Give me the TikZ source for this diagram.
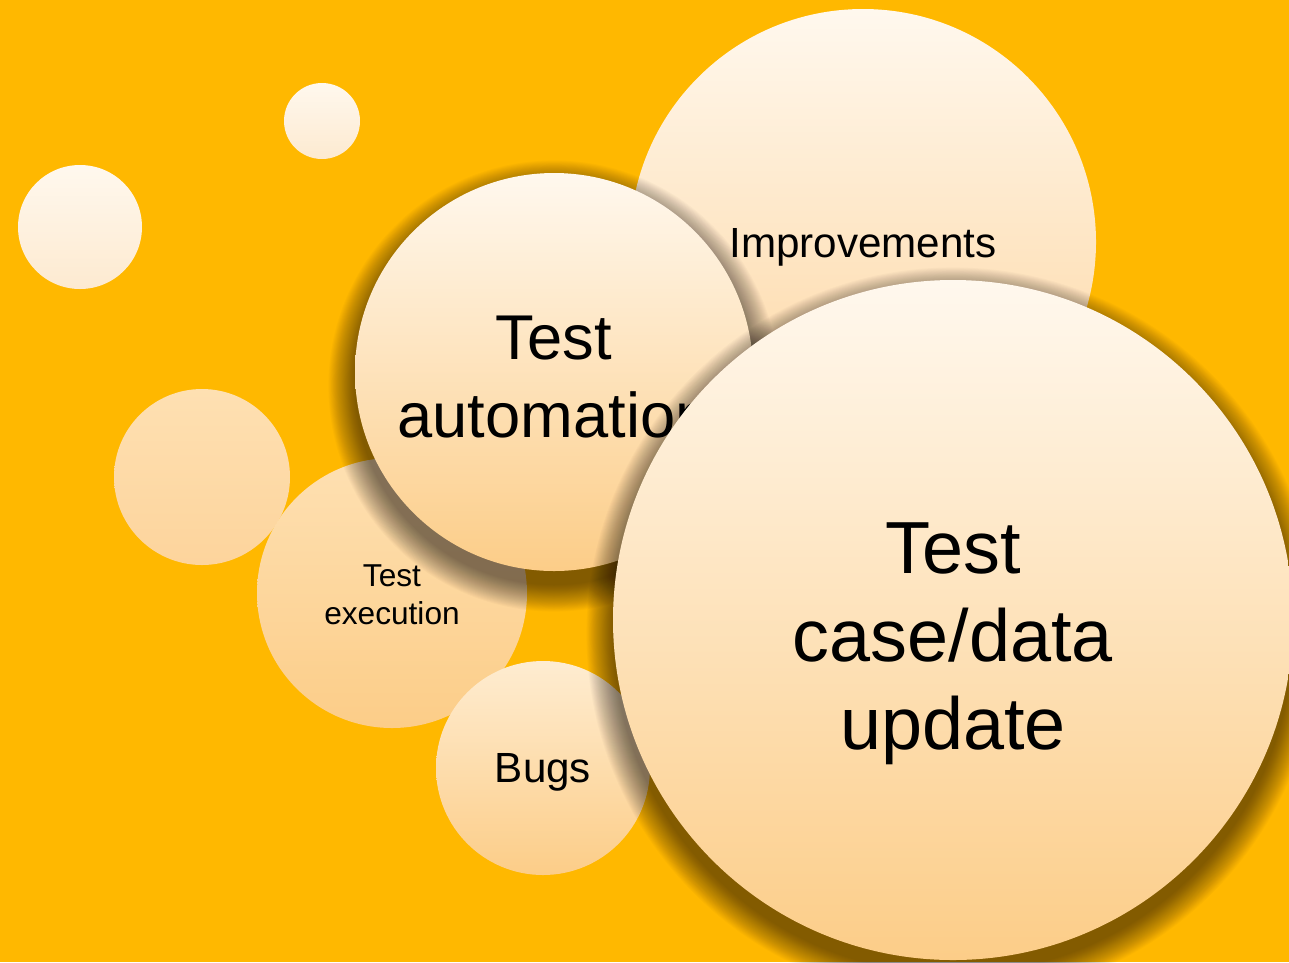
\documentclass[tikz,border=0pt]{standalone}
\usepackage{fontspec}
\setmainfont{Liberation Sans}
\definecolor{backdrop}{RGB}{255,184,0}
\definecolor{creamtop}{RGB}{255,248,238}
\definecolor{creambottom}{RGB}{252,205,136}
\definecolor{palebottom}{RGB}{253,234,208}
\definecolor{peachtop}{RGB}{254,224,178}
\definecolor{peachbottom}{RGB}{253,212,156}

% soft drop shadow under a bubble: centre, radius (cm)
\newcommand{\dropshade}[2]{%
  \foreach \k in {1,...,30}{%
    \fill[black, opacity=0.02, yshift=-0.28cm] (#1) circle ({#2+0.55*(1-\k/30)});
  }%
}

\begin{document}
\begin{tikzpicture}[
    bubble/.style={
        circle,
        inner sep=0pt,
        top color=creamtop,
        bottom color=creambottom
    },
    dot/.style={
        bubble,
        bottom color=palebottom
    },
    peach/.style={
        bubble,
        top color=peachtop,
        bottom color=peachbottom
    },
    caption/.style={align=center, inner sep=0pt}
]

% orange page
\fill[backdrop] (0,0) rectangle (25.78,-19.24);
\useasboundingbox (0,0) rectangle (25.78,-19.24);

% loose bubbles
\node[dot, minimum size=1.52cm] (dotA) at (6.44,-2.42) {};
\node[dot, minimum size=2.48cm] (dotB) at (1.60,-4.54) {};
\node[peach, minimum size=3.52cm] (dotC) at (4.04,-9.54) {};

% labelled bubbles, back to front
\node[peach, bottom color=creambottom, minimum size=5.40cm] (execution) at (7.84,-11.86) {};
\node[caption, font=\fontsize{18}{21.6}\selectfont] (executionText)
    at ([yshift=-0.04cm]execution.center) {Test\\execution};

\node[bubble, top color=peachtop!60!white, minimum size=4.28cm] (bugs) at (10.86,-15.36) {};
\node[caption, font=\fontsize{24}{28}\selectfont] (bugsText)
    at ([yshift=-0.08cm]bugs.center) {Bugs};

\node[bubble, bottom color=peachbottom, minimum size=9.32cm] (improvements) at (17.26,-4.84) {};
\node[caption, font=\fontsize{24}{28}\selectfont] (improvementsText)
    at ([yshift=-0.1cm]improvements.center) {Improvements};

\dropshade{11.08,-7.44}{3.98}
\node[bubble, minimum size=7.96cm] (automation) at (11.08,-7.44) {};
\node[caption, font=\fontsize{36}{44}\selectfont] (automationText)
    at ([yshift=-0.1cm]automation.center) {Test\\automation};

\dropshade{19.06,-12.40}{6.80}
\node[bubble, minimum size=13.60cm] (testcase) at (19.06,-12.40) {};
\node[caption, font=\fontsize{42}{50}\selectfont] (testcaseText)
    at ([yshift=-0.48cm]testcase.center) {Test\\case/data\\update};

\end{tikzpicture}
\end{document}
